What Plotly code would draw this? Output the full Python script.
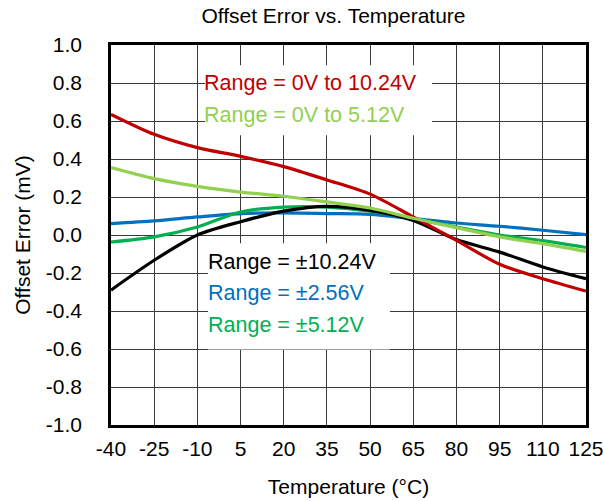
import plotly.graph_objects as go

# Temperature sweep (°C)
temps = [-40, -25, -10, 5, 20, 35, 50, 65, 80, 95, 110, 125]

# Offset error (mV) for each input range
err_0_10v24 = [0.635, 0.53, 0.46, 0.414, 0.36, 0.29, 0.215, 0.095, -0.028, -0.154, -0.23, -0.295]
err_0_5v12 = [0.355, 0.297, 0.256, 0.226, 0.204, 0.174, 0.142, 0.088, 0.039, -0.01, -0.045, -0.086]
err_pm10v24 = [-0.29, -0.133, 0.0, 0.07, 0.126, 0.151, 0.13, 0.077, -0.024, -0.09, -0.168, -0.23]
err_pm2v56 = [0.06, 0.074, 0.095, 0.113, 0.116, 0.113, 0.109, 0.086, 0.063, 0.046, 0.025, 0.002]
err_pm5v12 = [-0.037, -0.01, 0.042, 0.121, 0.147, 0.147, 0.126, 0.086, 0.042, 0.0, -0.03, -0.066]

x_ticks = temps
y_ticks = [-1.0, -0.8, -0.6, -0.4, -0.2, 0.0, 0.2, 0.4, 0.6, 0.8, 1.0]

FONT = "Liberation Sans, Arial, sans-serif"
FS = 21
FS_LABEL = 21.5

series = [
    ("Range = ±2.56V", err_pm2v56, "#0070C0"),
    ("Range = ±5.12V", err_pm5v12, "#00B050"),
    ("Range = ±10.24V", err_pm10v24, "#000000"),
    ("Range = 0V to 10.24V", err_0_10v24, "#C00000"),
    ("Range = 0V to 5.12V", err_0_5v12, "#92D050"),
]

fig = go.Figure()
for name, vals, color in series:
    fig.add_trace(go.Scatter(
        x=temps, y=vals, mode="lines", name=name,
        line=dict(color=color, width=3.2, shape="spline", smoothing=0.8),
        showlegend=False,
    ))

# white label panels over the grid
fig.add_shape(type="rect", xref="x", yref="y", x0=-7.35, x1=71.5, y0=0.525, y1=0.893,
              fillcolor="white", line=dict(width=0), layer="between")
fig.add_shape(type="rect", xref="x", yref="y", x0=-6.3, x1=56.9, y0=-0.602, y1=-0.044,
              fillcolor="white", line=dict(width=0), layer="between")

labels = [
    ("Range = 0V to 10.24V", "#C00000", -7.2, 0.798),
    ("Range = 0V to 5.12V", "#92D050", -7.2, 0.630),
    ("Range = ±10.24V", "#000000", -6.1, -0.144),
    ("Range = ±2.56V", "#0070C0", -6.1, -0.307),
    ("Range = ±5.12V", "#00B050", -6.1, -0.475),
]
for text, color, lx, ly in labels:
    fig.add_annotation(x=lx, y=ly, xref="x", yref="y", text=text, showarrow=False,
                       xanchor="left", yanchor="middle", xshift=-3,
                       font=dict(family=FONT, size=FS_LABEL, color=color))

fig.update_layout(
    width=603, height=501,
    margin=dict(l=111, r=17, t=45, b=76, autoexpand=False),
    paper_bgcolor="white", plot_bgcolor="white",
    font=dict(family=FONT, size=FS, color="black"),
    title=dict(text="Offset Error vs. Temperature", x=0.553, xanchor="center",
               y=0.969, yanchor="middle", font=dict(family=FONT, size=FS, color="black")),
)
fig.update_xaxes(
    range=[-40, 125], tickmode="array", tickvals=x_ticks,
    ticktext=[str(v) for v in x_ticks],
    showgrid=True, gridcolor="#3a3a3a", gridwidth=1,
    showline=True, linecolor="black", linewidth=2.5, mirror=True,
    ticks="", ticklabelstandoff=3, ticklabeloverflow="allow",
    zeroline=False, automargin=False,
    title=dict(text="Temperature (°C)", standoff=21, font=dict(family=FONT, size=FS)),
)
fig.update_yaxes(
    range=[-1.0, 1.0], tickmode="array", tickvals=y_ticks,
    ticktext=[f"{v:.1f}" for v in y_ticks],
    showgrid=True, gridcolor="#3a3a3a", gridwidth=1,
    showline=True, linecolor="black", linewidth=2.5, mirror=True,
    ticks="", ticklabelstandoff=22, ticklabeloverflow="allow",
    zeroline=False, automargin=False,
    title=dict(text="Offset Error (mV)", standoff=10, font=dict(family=FONT, size=FS)),
)

fig.write_html("out.html")
